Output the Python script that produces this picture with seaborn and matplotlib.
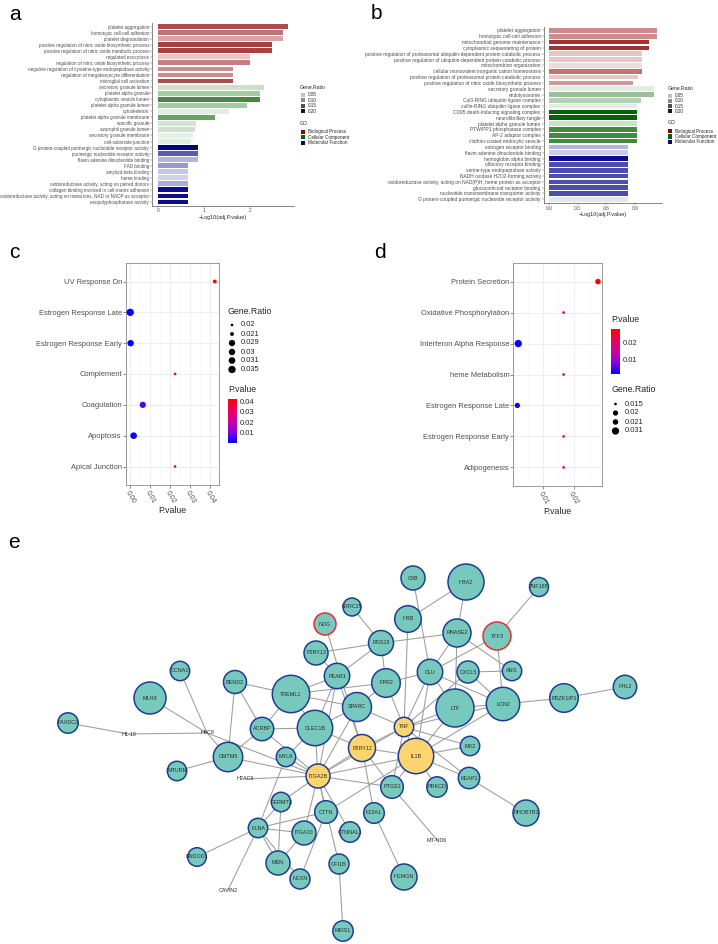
import matplotlib

matplotlib.use("Agg")

import matplotlib.pyplot as plt
import pandas as pd
import seaborn as sns
from matplotlib.cm import ScalarMappable
from matplotlib.colors import LinearSegmentedColormap, Normalize, to_rgb
from matplotlib.patches import Rectangle

FIG_W, FIG_H = 718, 944

# ---- panel a: GO terms
A_TERMS = [
    "platelet aggregation",
    "homotypic cell-cell adhesion",
    "platelet degranulation",
    "positive regulation of nitric oxide biosynthetic process",
    "positive regulation of nitric oxide metabolic process",
    "regulated exocytosis",
    "regulation of nitric oxide biosynthetic process",
    "negative regulation of cysteine-type endopeptidase activity",
    "regulation of megakaryocyte differentiation",
    "microglial cell activation",
    "secretory granule lumen",
    "platelet alpha granule",
    "cytoplasmic vesicle lumen",
    "platelet alpha granule lumen",
    "cytoskeleton",
    "platelet alpha granule membrane",
    "specific granule",
    "azurophil granule lumen",
    "secretory granule membrane",
    "cell-substrate junction",
    "G protein-coupled purinergic nucleotide receptor activity",
    "purinergic nucleotide receptor activity",
    "flavin adenine dinucleotide binding",
    "FAD binding",
    "amyloid-beta binding",
    "heme binding",
    "oxidoreductase activity, acting on paired donors",
    "collagen binding involved in cell-matrix adhesion",
    "oxidoreductase activity, acting on metal ions, NAD or NADP as acceptor",
    "exopolyphosphatase activity",
]
A_LOG_P = [2.81, 2.72, 2.72, 2.48, 2.48, 2.0, 2.0, 1.62, 1.62, 1.62,
           2.29, 2.2, 2.2, 1.93, 1.54, 1.22, 0.81, 0.8, 0.75, 0.71,
           0.86, 0.86, 0.86, 0.645, 0.645, 0.645, 0.645, 0.645, 0.645, 0.645]
A_RATIO = [0.153, 0.12, 0.076, 0.164, 0.164, 0.047, 0.109, 0.098, 0.098, 0.153,
           0.042, 0.076, 0.164, 0.076, 0.024, 0.131, 0.038, 0.042, 0.02, 0.024,
           0.22, 0.142, 0.064, 0.087, 0.047, 0.038, 0.07, 0.209, 0.209, 0.209]
A_GO = (["Biological Process"] * 10 + ["Cellular Component"] * 10
        + ["Molecular Function"] * 10)

# ---- panel b: GO terms
B_TERMS = [
    "platelet aggregation",
    "homotypic cell-cell adhesion",
    "mitochondrial genome maintenance",
    "cytoplasmic sequestering of protein",
    "positive regulation of proteasomal ubiquitin-dependent protein catabolic process",
    "positive regulation of ubiquitin-dependent protein catabolic process",
    "mitochondrion organization",
    "cellular monovalent inorganic cation homeostasis",
    "positive regulation of proteasomal protein catabolic process",
    "positive regulation of nitric oxide biosynthetic process",
    "secretory granule lumen",
    "endolysosome",
    "Cul3-RING ubiquitin ligase complex",
    "cullin-RING ubiquitin ligase complex",
    "CD95 death-inducing signaling complex",
    "neurofibrillary tangle",
    "platelet alpha granule lumen",
    "PTW/PP1 phosphatase complex",
    "AP-2 adaptor complex",
    "clathrin-coated endocytic vesicle",
    "estrogen receptor binding",
    "flavin adenine dinucleotide binding",
    "hemoglobin alpha binding",
    "olfactory receptor binding",
    "serine-type endopeptidase activity",
    "NADH oxidase H2O2-forming activity",
    "oxidoreductase activity, acting on NAD(P)H, heme protein as acceptor",
    "glucocorticoid receptor binding",
    "nucleotide transmembrane transporter activity",
    "G protein-coupled purinergic nucleotide receptor activity",
]
B_LOG_P = [1.13, 1.13, 1.05, 1.05, 0.97, 0.97, 0.97, 0.97, 0.93, 0.88,
           1.10, 1.10, 0.96, 0.92, 0.92, 0.92, 0.92, 0.92, 0.92, 0.92,
           0.83, 0.83, 0.83, 0.83, 0.83, 0.83, 0.83, 0.83, 0.83, 0.83]
B_RATIO = [0.098, 0.098, 0.176, 0.176, 0.047, 0.047, 0.03, 0.12, 0.047, 0.087,
           0.024, 0.087, 0.064, 0.024, 0.22, 0.22, 0.042, 0.164, 0.164, 0.164,
           0.064, 0.042, 0.209, 0.153, 0.153, 0.153, 0.153, 0.153, 0.153, 0.02]
B_GO = A_GO

GO_COLORS = {"Biological Process": "#8B0000",
             "Cellular Component": "#006400",
             "Molecular Function": "#00008B"}
LEGEND_RATIOS = [0.05, 0.10, 0.15, 0.20]

# ---- panel c / d: hallmark enrichment
C_TERMS = ["UV Response Dn", "Estrogen Response Late", "Estrogen Response Early",
           "Complement", "Coagulation", "Apoptosis", "Apical Junction"]
C_PVAL = [0.0424, 0.0, 0.0002, 0.0225, 0.0063, 0.0017, 0.0225]
C_RATIO = [0.021, 0.035, 0.03, 0.02, 0.029, 0.031, 0.02]

D_TERMS = ["Protein Secretion", "Oxidative Phosphorylation", "Interferon Alpha Response",
           "heme Metabolism", "Estrogen Response Late", "Estrogen Response Early",
           "Adipogenesis"]
D_PVAL = [0.0279, 0.0167, 0.0019, 0.0167, 0.0016, 0.0167, 0.0167]
D_RATIO = [0.021, 0.015, 0.031, 0.015, 0.02, 0.015, 0.015]

# ---- panel e: PPI network (layout, pixel units)
NODE_NAMES = ["NOG", "LRRC25", "P2RY13", "PEAR1", "CCNA1", "BEND2", "TREML1", "MLH3",
              "FAXDC2", "ACRBP", "CLEC1B", "SPARC", "P2RY12", "C8B", "HBA2", "ZNF185",
              "HBB", "RNASE2", "TFF3", "RGS18", "CLU", "CXCL5", "ANG", "FPR2", "LTF",
              "LCN2", "PDZK1IP1", "FHL2", "TNF", "MX2", "IL1B", "CMTM5", "MYL9", "MTURN",
              "ITGA2B", "FERMT3", "CTTN", "FLNA", "ITGA10", "CTNNAL1", "ENDOD1", "MSN",
              "GFI1B", "NEXN", "MEIS1", "PTGS1", "PRKCD", "KEAP1", "RHOBTB1", "F13A1",
              "HEMGN"]
NODE_X = [325, 352, 316, 337, 180, 235, 291, 150, 68, 262, 315, 357, 362, 413, 466, 539,
          408, 457, 497, 381, 430, 468, 512, 386, 455, 503, 564, 625, 404, 470, 416, 228,
          286, 177, 318, 281, 326, 258, 304, 350, 197, 278, 339, 300, 343, 392, 437, 469,
          526, 374, 404]
NODE_Y = [624, 607, 653, 676, 671, 682, 694, 698, 723, 729, 728, 707, 748, 578, 582, 587,
          619, 633, 636, 643, 672, 672, 671, 683, 708, 704, 698, 687, 727, 746, 756, 757,
          757, 771, 776, 802, 812, 828, 833, 832, 857, 863, 864, 879, 931, 787, 787, 778,
          813, 813, 877]
NODE_R = [11, 9, 12, 12.7, 9.7, 11.5, 18.7, 16, 10.2, 11.7, 17.7, 14.5, 13.5, 12, 18, 9.5,
          13.3, 14, 14, 12.5, 12.7, 11, 9.7, 14.3, 19, 16.7, 14.3, 11.7, 9.7, 9.7, 17.7,
          14.7, 9.7, 9.7, 12, 9.7, 11.3, 9.7, 12, 10.2, 9.3, 12, 10, 10, 10.2, 11.3, 10.2,
          10.7, 13, 10.3, 13]
NODE_KIND = ["down", "base", "base", "base", "base", "base", "base", "base", "base", "base",
             "base", "base", "hub", "base", "base", "base", "base", "base", "down", "base",
             "base", "base", "base", "base", "base", "base", "base", "base", "hub", "base",
             "hub", "base", "base", "base", "hub", "base", "base", "base", "base", "base",
             "base", "base", "base", "base", "base", "base", "base", "base", "base", "base",
             "base"]
LABEL_NAMES = ["H1-10", "H4C8", "H2AC6", "CAVIN2", "MT-ND6"]
LABEL_X = [129, 207, 245, 228, 437]
LABEL_Y = [734, 733, 779, 890, 840]
EDGES = [
    ("FAXDC2", "H1-10"), ("H1-10", "H4C8"), ("MLH3", "H4C8"), ("CCNA1", "H4C8"),
    ("H4C8", "ITGA2B"), ("H4C8", "CMTM5"), ("BEND2", "TREML1"), ("BEND2", "ACRBP"),
    ("BEND2", "CMTM5"), ("ACRBP", "TREML1"), ("ACRBP", "CLEC1B"), ("ACRBP", "CMTM5"),
    ("ACRBP", "ITGA2B"), ("TREML1", "PEAR1"), ("TREML1", "FPR2"), ("TREML1", "CLEC1B"),
    ("TREML1", "SPARC"), ("CLEC1B", "SPARC"), ("CLEC1B", "P2RY12"), ("CLEC1B", "PEAR1"),
    ("CLEC1B", "ITGA2B"), ("CLEC1B", "MYL9"), ("NOG", "P2RY12"), ("P2RY13", "RGS18"),
    ("P2RY13", "PEAR1"), ("LRRC25", "RGS18"), ("PEAR1", "RGS18"), ("PEAR1", "P2RY12"),
    ("PEAR1", "ITGA2B"), ("C8B", "CLU"), ("HBA2", "HBB"), ("HBA2", "RNASE2"),
    ("HBB", "TNF"), ("ZNF185", "TFF3"), ("RNASE2", "RGS18"), ("RNASE2", "CLU"),
    ("RNASE2", "LTF"), ("RNASE2", "ANG"), ("TFF3", "CLU"), ("TFF3", "LCN2"),
    ("RGS18", "FPR2"), ("CLU", "TNF"), ("CLU", "LTF"), ("CLU", "LCN2"), ("CLU", "FPR2"),
    ("CLU", "IL1B"), ("CXCL5", "ANG"), ("CXCL5", "TNF"), ("CXCL5", "LCN2"),
    ("FPR2", "TNF"), ("FPR2", "SPARC"), ("LTF", "TNF"), ("LTF", "LCN2"), ("LTF", "IL1B"),
    ("LCN2", "PDZK1IP1"), ("LCN2", "TNF"), ("LCN2", "IL1B"), ("PDZK1IP1", "FHL2"),
    ("TNF", "IL1B"), ("TNF", "P2RY12"), ("TNF", "ITGA2B"), ("TNF", "MX2"),
    ("TNF", "PTGS1"), ("TNF", "SPARC"), ("TNF", "KEAP1"), ("IL1B", "MX2"),
    ("IL1B", "KEAP1"), ("IL1B", "PRKCD"), ("IL1B", "PTGS1"), ("IL1B", "P2RY12"),
    ("IL1B", "ITGA2B"), ("KEAP1", "RHOBTB1"), ("PTGS1", "MT-ND6"), ("PTGS1", "ITGA2B"),
    ("PTGS1", "P2RY12"), ("F13A1", "HEMGN"), ("F13A1", "P2RY12"), ("ITGA2B", "CMTM5"),
    ("ITGA2B", "MYL9"), ("ITGA2B", "H2AC6"), ("ITGA2B", "FERMT3"), ("ITGA2B", "CTTN"),
    ("ITGA2B", "ITGA10"), ("ITGA2B", "CTNNAL1"), ("ITGA2B", "P2RY12"), ("ITGA2B", "SPARC"),
    ("ITGA2B", "GFI1B"), ("CMTM5", "MTURN"), ("MYL9", "FLNA"), ("FERMT3", "FLNA"),
    ("FERMT3", "MSN"), ("CTTN", "FLNA"), ("CTTN", "NEXN"), ("CTTN", "IL1B"),
    ("FLNA", "ITGA10"), ("FLNA", "MSN"), ("FLNA", "NEXN"), ("FLNA", "ENDOD1"),
    ("FLNA", "CAVIN2"), ("ITGA10", "MSN"), ("GFI1B", "MEIS1"),
]

NODE_FILL = {"base": "#77C9BE", "hub": "#FDD46D", "down": "#77C9BE"}
NODE_EDGE = {"base": "#1F3C93", "hub": "#1F3C93", "down": "#E0302F"}

PVAL_CMAP = LinearSegmentedColormap.from_list(
    "pval", ["#0000FF", "#8A00E2", "#CC00A0", "#EA0060", "#FF0000"])
AXIS_TEXT = "#4D4D4D"


def fig_box(left, top, right, bottom):
    return [left / FIG_W, 1 - bottom / FIG_H, (right - left) / FIG_W, (bottom - top) / FIG_H]


def blend(color, alpha):
    return tuple(1 - alpha * (1 - c) for c in to_rgb(color))


def ratio_alpha(ratio, rmin, rmax):
    return 0.1 + 0.9 * (ratio - rmin) / (rmax - rmin)


def dot_area(ratio, rmin, rmax, dmin=2.7, dmax=7.3):
    t = (ratio - rmin) / (rmax - rmin)
    diameter_px = dmin + (dmax - dmin) * t ** 0.5
    return (diameter_px * 0.72) ** 2


def draw_go_panel(fig, box, terms, log_p, ratios, go, ticks, ticklabels, label_size):
    ax = fig.add_axes(box)
    rmin, rmax = min(ratios), max(ratios)
    colors = [blend(GO_COLORS[g], ratio_alpha(r, rmin, rmax)) for g, r in zip(go, ratios)]
    df = pd.DataFrame({"term": terms, "value": log_p})
    sns.barplot(data=df, x="value", y="term", hue="term", palette=colors, legend=False,
                saturation=1, width=0.8, linewidth=0, ax=ax)
    top = max(log_p)
    ax.set_xlim(-0.05 * top, 1.05 * top)
    ax.set_ylim(len(terms) - 0.4, -0.6)
    ax.set_xticks(ticks, ticklabels)
    ax.set_xlabel("\u2212Log10(adj.P.value)", fontsize=3.9, labelpad=1)
    ax.set_ylabel("")
    for side in ["top", "right"]:
        ax.spines[side].set_visible(False)
    for side in ["left", "bottom"]:
        ax.spines[side].set_color("#555555")
        ax.spines[side].set_linewidth(0.5)
    ax.tick_params(axis="y", labelsize=label_size, length=1.2, width=0.3, pad=0.8,
                   colors="#555555", labelcolor=AXIS_TEXT, left=True)
    ax.tick_params(axis="x", labelsize=3.5, length=1.2, width=0.3, pad=0.8,
                   colors="#555555", labelcolor=AXIS_TEXT, bottom=True)
    return ax


def draw_go_legend(canvas, x, title_y, rows_y, go_title_y, go_rows_y, ratios):
    rmin, rmax = min(ratios), max(ratios)
    canvas.text(x, title_y, "Gene.Ratio", fontsize=3.7, va="center")
    for level, yy in zip(LEGEND_RATIOS, rows_y):
        canvas.add_patch(Rectangle((x + 0.5, yy - 2.1), 4.2, 4.2, linewidth=0,
                                   color=blend("black", ratio_alpha(level, rmin, rmax))))
        canvas.text(x + 7.5, yy, f"{level:.2f}", fontsize=3.3, va="center", color="#222222")
    canvas.text(x, go_title_y, "GO", fontsize=3.7, va="center")
    for (name, color), yy in zip(GO_COLORS.items(), go_rows_y):
        canvas.add_patch(Rectangle((x + 0.5, yy - 2.1), 4.2, 4.2, linewidth=0, color=color))
        canvas.text(x + 7.5, yy, name, fontsize=3.3, va="center", color="#222222")


def draw_dot_panel(fig, box, terms, pvals, ratios, ticks, minor_ticks):
    ax = fig.add_axes(box)
    norm = Normalize(min(pvals), max(pvals))
    rmin, rmax = min(ratios), max(ratios)
    sizes = {r: dot_area(r, rmin, rmax) for r in set(ratios)}
    df = pd.DataFrame({"term": terms, "pval": pvals, "ratio": ratios})
    sns.scatterplot(data=df, x="pval", y="term", hue="pval", hue_norm=norm,
                    palette=PVAL_CMAP, size="ratio", sizes=sizes, legend=False,
                    linewidth=0, zorder=3, ax=ax)
    span = max(pvals) - min(pvals)
    ax.set_xlim(min(pvals) - 0.05 * span, max(pvals) + 0.05 * span)
    ax.set_ylim(len(terms) - 0.4, -0.6)
    ax.set_xticks(ticks, [f"{t:.2f}" for t in ticks])
    ax.set_xticks(minor_ticks, minor=True)
    ax.set_axisbelow(True)
    ax.grid(True, which="major", color="#EBEBEB", linewidth=0.6)
    ax.grid(True, which="minor", axis="x", color="#F3F3F3", linewidth=0.4)
    ax.set_xlabel("P.value", fontsize=6.3, labelpad=1)
    ax.set_ylabel("")
    for spine in ax.spines.values():
        spine.set_color("#8A8A8A")
        spine.set_linewidth(0.6)
    ax.tick_params(axis="y", labelsize=5.4, length=2, width=0.4, pad=1,
                   colors="#333333", labelcolor=AXIS_TEXT, left=True)
    ax.tick_params(axis="x", which="major", labelsize=5.0, length=2, width=0.4, pad=1,
                   colors="#333333", labelcolor=AXIS_TEXT, bottom=True)
    ax.tick_params(axis="x", which="minor", length=0)
    for label in ax.get_xticklabels():
        label.set_rotation(-60)
        label.set_ha("center")
        label.set_va("top")
    return ax, norm


def draw_colorbar(fig, canvas, box, norm, ticks, title_xy):
    cax = fig.add_axes(box)
    cbar = fig.colorbar(ScalarMappable(norm=norm, cmap=PVAL_CMAP), cax=cax)
    cbar.outline.set_visible(False)
    cbar.set_ticks(ticks, labels=[f"{t:g}" for t in ticks])
    cax.tick_params(labelsize=5.5, length=2, width=0.5, color="white", direction="in", pad=2)
    canvas.text(title_xy[0], title_xy[1], "P.value", fontsize=6.3, va="center")


def draw_size_legend(canvas, x, title_y, rows_y, levels, ratios):
    rmin, rmax = min(ratios), max(ratios)
    canvas.text(x, title_y, "Gene.Ratio", fontsize=6.3, va="center")
    canvas.scatter([x + 4] * len(levels), rows_y,
                   s=[dot_area(lv, rmin, rmax) for lv in levels], color="black", linewidth=0)
    for level, yy in zip(levels, rows_y):
        canvas.text(x + 13, yy, f"{level:g}", fontsize=5.4, va="center", color="#222222")


def draw_network(canvas):
    pos = {n: (x, y) for n, x, y in zip(NODE_NAMES, NODE_X, NODE_Y)}
    pos.update({n: (x, y) for n, x, y in zip(LABEL_NAMES, LABEL_X, LABEL_Y)})
    for a, b in EDGES:
        canvas.plot([pos[a][0], pos[b][0]], [pos[a][1], pos[b][1]],
                    color="#9C9C9C", linewidth=0.75, zorder=1)
    nodes = pd.DataFrame({"name": NODE_NAMES, "x": NODE_X, "y": NODE_Y,
                          "r": NODE_R, "kind": NODE_KIND})
    canvas.scatter(nodes["x"], nodes["y"], s=(nodes["r"] * 1.44) ** 2,
                   c=[NODE_FILL[k] for k in nodes["kind"]],
                   edgecolors=[NODE_EDGE[k] for k in nodes["kind"]],
                   linewidths=1.1, zorder=2)
    for _, row in nodes.iterrows():
        canvas.text(row["x"], row["y"], row["name"], fontsize=3.9, ha="center",
                    va="center", color="#2B2B2B", zorder=3)
    for name, x, y in zip(LABEL_NAMES, LABEL_X, LABEL_Y):
        canvas.text(x, y, name, fontsize=3.9, ha="center", va="center",
                    color="#2B2B2B", zorder=3)


def main() -> None:
    sns.set_theme(style="white")
    plt.rcParams["font.family"] = ["Liberation Sans", "DejaVu Sans"]

    fig = plt.figure(figsize=(FIG_W / 100, FIG_H / 100), dpi=100, facecolor="white")

    canvas = fig.add_axes([0, 0, 1, 1])
    canvas.set_xlim(0, FIG_W)
    canvas.set_ylim(FIG_H, 0)
    canvas.axis("off")
    canvas.patch.set_alpha(0)

    # a / b
    draw_go_panel(fig, fig_box(152, 23, 294, 205.6), A_TERMS, A_LOG_P, A_RATIO, A_GO,
                  [0, 1, 2], ["0", "1", "2"], 3.3)
    draw_go_legend(canvas, 300, 87.5, [95, 100.4, 105.8, 111.2], 123.3,
                   [132, 137.3, 142.7], A_RATIO)
    draw_go_panel(fig, fig_box(543.5, 27, 662.3, 202.8), B_TERMS, B_LOG_P, B_RATIO, B_GO,
                  [0, 0.3, 0.6, 0.9], ["0.0", "0.3", "0.6", "0.9"], 3.5)
    draw_go_legend(canvas, 667.5, 88.3, [95.7, 100.8, 106, 111.3], 122.7,
                   [131.3, 136.5, 141.7], B_RATIO)

    # c
    _, c_norm = draw_dot_panel(fig, fig_box(126, 263, 219, 485), C_TERMS, C_PVAL, C_RATIO,
                               [0.0, 0.01, 0.02, 0.03, 0.04],
                               [0.005, 0.015, 0.025, 0.035])
    draw_size_legend(canvas, 228, 312, [325, 334, 343, 352, 360.5, 369.5],
                     [0.02, 0.021, 0.029, 0.03, 0.031, 0.035], C_RATIO)
    draw_colorbar(fig, canvas, fig_box(228, 399, 237, 443), c_norm,
                  [0.01, 0.02, 0.03, 0.04], (228, 389))

    # d
    _, d_norm = draw_dot_panel(fig, fig_box(513.3, 263, 602, 486), D_TERMS, D_PVAL, D_RATIO,
                               [0.01, 0.02], [0.005, 0.015, 0.025])
    draw_colorbar(fig, canvas, fig_box(611, 329, 620, 374), d_norm, [0.01, 0.02], (611, 320))
    draw_size_legend(canvas, 611.5, 390, [404, 413, 422, 431],
                     [0.015, 0.02, 0.021, 0.031], D_RATIO)

    # e
    draw_network(canvas)

    for letter, x, y in [("a", 9, 20), ("b", 371, 19), ("c", 9, 258),
                         ("d", 374, 258), ("e", 8, 548)]:
        canvas.text(x, y, letter, fontsize=15, ha="left", va="baseline", color="black")

    fig.savefig("out.png", dpi=100, facecolor="white")
    plt.close(fig)


if __name__ == "__main__":
    main()
